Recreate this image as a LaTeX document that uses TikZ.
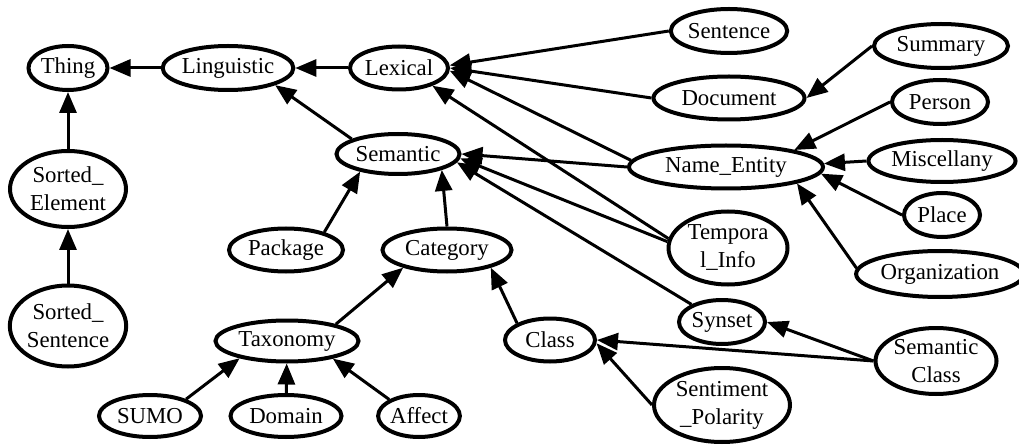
\documentclass[tikz,border=0pt]{standalone}
\usepackage{fontspec}
\setmainfont{Liberation Serif}
\usetikzlibrary{shapes.geometric,arrows.meta}

\begin{document}
\begin{tikzpicture}[x=1pt, y=-1pt,
  ent/.style={ellipse, draw, line width=4pt, inner sep=0pt, align=center, font=\fontsize{22.8}{28}\selectfont},
  edge/.style={line width=3pt, -{Triangle[length=21pt, width=17pt]}}]
\useasboundingbox (0,0) rectangle (1019,446);
\node[ent, minimum width=79pt, minimum height=44pt] (thing) at (68,68){Thing};
\node[ent, minimum width=129pt, minimum height=44pt] (ling) at (228,68){Linguistic};
\draw[edge](ling) -- (thing);
\node[ent, minimum width=98pt, minimum height=43pt] (lex) at (399,68){Lexical};
\draw[edge](lex) -- (ling);
\node[ent, minimum width=123pt, minimum height=40pt] (sem) at (398,154){Semantic};
\draw[edge](sem.162) -- (ling.-20);
\node[ent, minimum width=116pt, minimum height=76pt] (sel) at (68,189){Sorted\_\\Element};
\draw[edge](sel) -- (thing);
\node[ent, minimum width=116pt, minimum height=81pt] (ssent) at (68,326){Sorted\_\\Sentence};
\draw[edge](ssent) -- (sel);
\node[ent, minimum width=113pt, minimum height=44pt] (sent) at (729,31){Sentence};
\node[ent, minimum width=151pt, minimum height=43pt] (doc) at (729,98){Document};
\node[ent, minimum width=134pt, minimum height=44pt] (summ) at (941,46){Summary};
\draw[edge](sent.west) -- (lex.3);
\draw[edge](doc.west) -- (lex.0);
\draw[edge](summ.west) -- (doc.east);
\node[ent, minimum width=194pt, minimum height=43pt] (ne) at (726,167){Name\_Entity};
\node[ent, minimum width=119pt, minimum height=73pt] (temp) at (728,248){Tempora\\l\_Info};
\draw[edge](ne.176) -- (lex.-3);
\draw[edge](temp.171) -- (lex.-28);
\draw[edge](ne.west) -- (sem.east);
\draw[edge](temp.174) -- (sem.-4);
\node[ent, minimum width=96pt, minimum height=44pt] (pers) at (940,102){Person};
\node[ent, minimum width=147pt, minimum height=42pt] (misc) at (942,161){Miscellany};
\node[ent, minimum width=76pt, minimum height=44pt] (place) at (942,215){Place};
\node[ent, minimum width=156pt, minimum height=46pt] (org) at (940,274){Organization};
\draw[edge](pers.west) -- (ne.14);
\draw[edge](misc.west) -- (ne.2);
\draw[edge](place.west) -- (ne.-4);
\draw[edge](org.176) -- (ne.-13);
\node[ent, minimum width=114pt, minimum height=43pt] (pack) at (286,250){Package};
\node[ent, minimum width=129pt, minimum height=43pt] (cat) at (447,250){Category};
\draw[edge](pack.25) -- (sem.205);
\draw[edge](cat.north) -- (sem.-20);
\node[ent, minimum width=143pt, minimum height=41pt] (tax) at (287,341){Taxonomy};
\node[ent, minimum width=90pt, minimum height=43pt] (cls) at (550,340){Class};
\draw[edge](tax.19) -- (cat.202);
\draw[edge](cls.153) -- (cat.-22);
\node[ent, minimum width=102pt, minimum height=42pt] (sumo) at (150,416){SUMO};
\node[ent, minimum width=111pt, minimum height=42pt] (dom) at (286,416){Domain};
\node[ent, minimum width=81pt, minimum height=42pt] (aff) at (419,416){Affect};
\draw[edge](sumo.25) -- (tax.200);
\draw[edge](dom) -- (tax);
\draw[edge](aff.151) -- (tax.-21);
\node[ent, minimum width=86pt, minimum height=44pt] (syn) at (722,322){Synset};
\node[ent, minimum width=121pt, minimum height=66pt] (scls) at (936,361){Semantic\\Class};
\node[ent, minimum width=136pt, minimum height=74pt] (senti) at (722,405){Sentiment\\\_Polarity};
\draw[edge](syn.150) -- (sem.-8);
\draw[edge](scls.west) -- (syn.east);
\draw[edge](scls.west) -- (cls.east);
\draw[edge](senti.west) -- (cls.-4);
\end{tikzpicture}
\end{document}
